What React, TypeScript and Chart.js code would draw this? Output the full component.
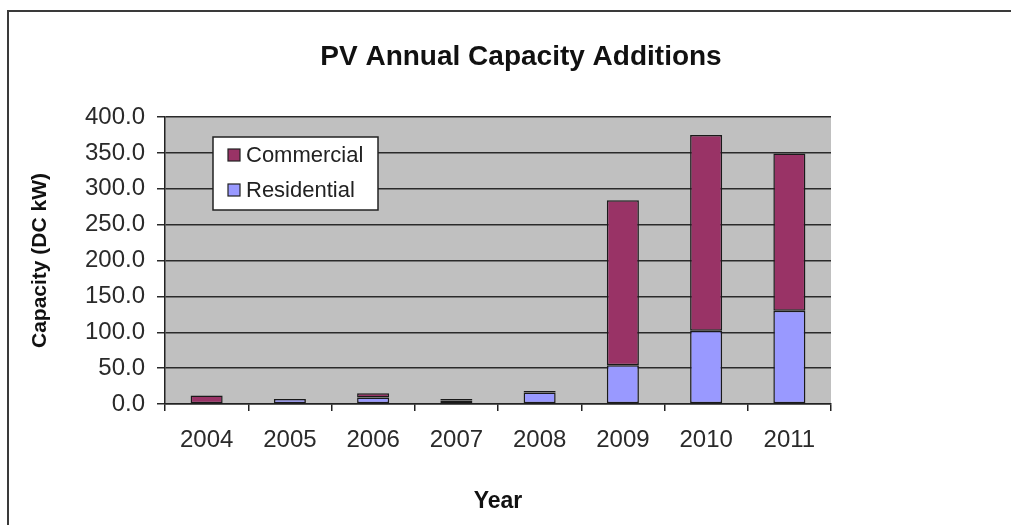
import React, { useEffect, useRef } from "react";
import { Chart, registerables } from "chart.js";

Chart.register(...registerables);

const years = ["2004", "2005", "2006", "2007", "2008", "2009", "2010", "2011"];
const residential = [0, 7, 9, 5, 16, 54, 102, 130];
const commercial = [12, 0, 6, 2, 2, 230, 273, 219];
const seriesNames = ["Residential", "Commercial"];
const seriesColors = ["#9999FF", "#993366"];
const chartTitle = "PV Annual Capacity Additions";
const yTitle = "Capacity (DC kW)";
const xTitle = "Year";
const yMin = 0;
const yMax = 400;
const yStep = 50;

const FAMILY = "'Liberation Sans', Arial, Helvetica, sans-serif";

const plotBackground = {
  id: "plotBackground",
  beforeDraw(chart: any) {
    const { ctx, chartArea } = chart;
    ctx.save();
    ctx.fillStyle = "#c0c0c0";
    ctx.fillRect(chartArea.left, chartArea.top, chartArea.right - chartArea.left, chartArea.bottom - chartArea.top);
    ctx.restore();
  },
};

const titleAndLegend = {
  id: "titleAndLegend",
  afterDraw(chart: any) {
    const { ctx } = chart;
    ctx.save();
    // title
    ctx.fillStyle = "#111";
    ctx.font = `bold 28px ${FAMILY}`;
    ctx.textAlign = "center";
    ctx.textBaseline = "middle";
    ctx.fillText(chartTitle, 521, 57);

    // legend box
    const x = 213, y = 137, w = 165, h = 73;
    ctx.fillStyle = "#ffffff";
    ctx.fillRect(x, y, w, h);
    ctx.strokeStyle = "#222";
    ctx.lineWidth = 1.5;
    ctx.strokeRect(x, y, w, h);
    const items = [...chart.data.datasets].reverse();
    items.forEach((ds: any, i: number) => {
      const cy = y + 18 + i * 35;
      ctx.fillStyle = ds.backgroundColor;
      ctx.fillRect(x + 15, cy - 6, 12, 12);
      ctx.strokeStyle = "#222";
      ctx.lineWidth = 1.2;
      ctx.strokeRect(x + 15, cy - 6, 12, 12);
      ctx.fillStyle = "#222";
      ctx.font = `22px ${FAMILY}`;
      ctx.textBaseline = "middle";
      ctx.textAlign = "left";
      ctx.fillText(ds.label, x + 33, cy + 1);
    });
    ctx.restore();
  },
};

const segBorder = (c: any) => {
  const v = c.raw;
  return v === 0 || v == null ? 0 : 1.5;
};

export default function App() {
  const canvasRef = useRef<HTMLCanvasElement | null>(null);

  useEffect(() => {
    if (!canvasRef.current) return;
    const chart = new Chart(canvasRef.current, {
      type: "bar",
      data: {
        labels: years,
        datasets: [
          {
            label: seriesNames[0],
            data: residential,
            backgroundColor: seriesColors[0],
            borderColor: "#1a1a1a",
            borderWidth: segBorder,
            borderSkipped: false,
            barPercentage: 0.385,
            categoryPercentage: 1,
          },
          {
            label: seriesNames[1],
            data: commercial,
            backgroundColor: seriesColors[1],
            borderColor: "#1a1a1a",
            borderWidth: segBorder,
            borderSkipped: false,
            barPercentage: 0.385,
            categoryPercentage: 1,
          },
        ],
      },
      options: {
        responsive: false,
        animation: false,
        layout: { padding: { left: 20, right: 180, top: 117, bottom: 10 } },
        plugins: {
          legend: { display: false },
          tooltip: { enabled: false },
          title: { display: false },
        },
        scales: {
          x: {
            stacked: true,
            grid: {
              display: true,
              drawOnChartArea: false,
              drawTicks: true,
              tickLength: 7,
              color: "#222",
              lineWidth: 1.5,
              offset: true,
            },
            border: { color: "#222", width: 1.5 },
            ticks: { font: { size: 24, family: FAMILY }, color: "#2a2a2a", padding: 15 },
            title: {
              display: true,
              text: xTitle,
              color: "#111",
              font: { size: 23, weight: "bold", family: FAMILY },
              padding: { top: 0, bottom: 0 },
            },
            afterFit: (s: any) => {
              s.height = 111;
            },
          },
          y: {
            stacked: true,
            min: yMin,
            max: yMax,
            ticks: {
              stepSize: yStep,
              callback: (v: any) => Number(v).toFixed(1),
              font: { size: 24, family: FAMILY },
              color: "#2a2a2a",
              padding: 12,
            },
            grid: { color: "#2a2a2a", lineWidth: 1.5, tickLength: 8 },
            border: { color: "#222", width: 1.5 },
            title: {
              display: true,
              text: yTitle,
              color: "#111",
              font: { size: 21, weight: "bold", family: FAMILY },
              padding: { top: 8, bottom: 0 },
            },
            afterFit: (s: any) => {
              s.width = 145;
            },
          },
        },
      },
      plugins: [plotBackground, titleAndLegend],
    });
    return () => chart.destroy();
  }, []);

  return (
    <div
      style={{
        position: "fixed",
        left: 0,
        top: 0,
        width: 1011,
        height: 525,
        overflow: "hidden",
        background: "#fff",
      }}
    >
      <canvas
        ref={canvasRef}
        width={1011}
        height={525}
        style={{ position: "absolute", left: 0, top: 0, width: 1011, height: 525 }}
      />
      <div
        style={{
          position: "absolute",
          left: 7,
          top: 10,
          width: 1100,
          height: 600,
          border: "2px solid #3a3a3a",
          pointerEvents: "none",
        }}
      />
    </div>
  );
}
